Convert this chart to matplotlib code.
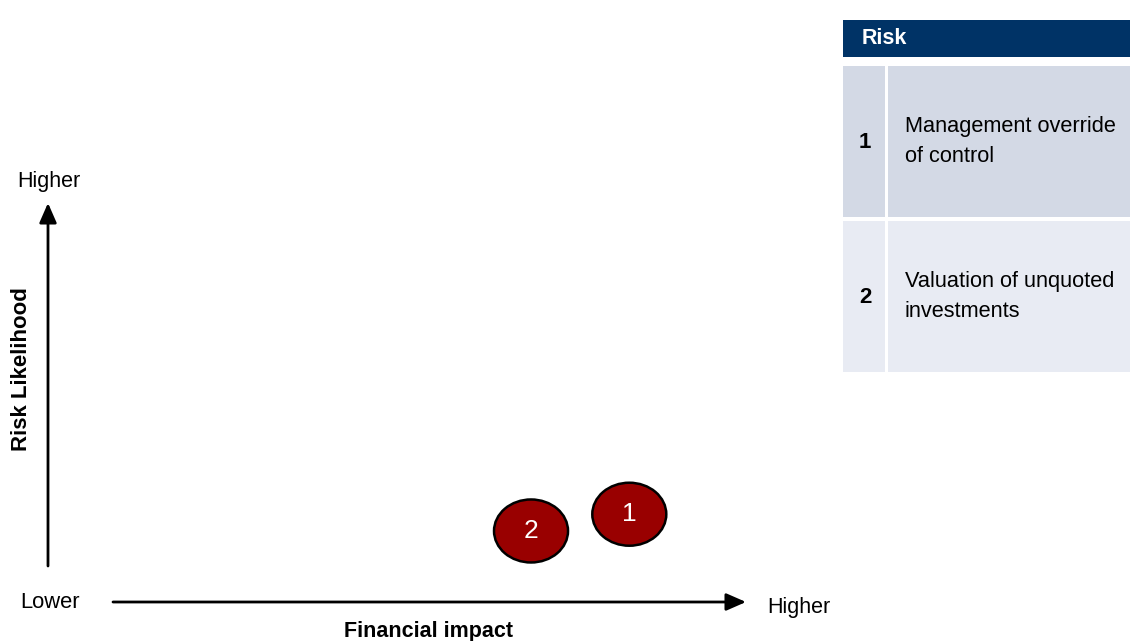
import matplotlib
matplotlib.use("Agg")
import matplotlib.pyplot as plt
from matplotlib.patches import Ellipse, Rectangle

plt.rcParams["font.family"] = ["Liberation Sans", "DejaVu Sans"]

# risk register
risk_ids = ["1", "2"]
risk_names = ["Management override\nof control", "Valuation of unquoted\ninvestments"]
# position on the matrix (0-10 scale on both axes)
impact = [8.34, 6.93]
likelihood = [2.2, 1.78]

table_header = "Risk"
x_label = "Financial impact"
y_label = "Risk Likelihood"

W, H = 1130, 641
fig = plt.figure(figsize=(W / 100, H / 100), dpi=100)

# overlay in pixel units for layout items
ov = fig.add_axes([0, 0, 1, 1])
ov.set_xlim(0, W)
ov.set_ylim(H, 0)
ov.axis("off")

# matrix axes
mx0, mx1, my0, my1 = 48, 745, 203, 602
ax = fig.add_axes([mx0 / W, 1 - my1 / H, (mx1 - mx0) / W, (my1 - my0) / H])
ax.set_xlim(0, 10)
ax.set_ylim(0, 10)
ax.axis("off")
ax.patch.set_alpha(0)

arrow = dict(arrowstyle="-|>,head_length=0.8,head_width=0.35", lw=2,
             color="black", mutation_scale=15, shrinkA=0, shrinkB=0)
ov.annotate("", xy=(48, 203), xytext=(48, 566), arrowprops=arrow)
ov.annotate("", xy=(746, 602), xytext=(113, 602), arrowprops=arrow)

ov.text(49, 182, "Higher", fontsize=15.5, ha="center", va="center")
ov.text(22, 369, y_label, fontsize=16, fontweight="bold", rotation=90,
        ha="center", va="center")
ov.text(50, 602, "Lower", fontsize=15.8, ha="center", va="center")
ov.text(767, 607, "Higher", fontsize=15.5, ha="left", va="center")
ov.text(428, 631, x_label, fontsize=15.5, fontweight="bold", ha="center", va="center")

# bubbles
ew, eh = 74 / (mx1 - mx0) * 10, 63 / (my1 - my0) * 10
for rid, x, y in zip(risk_ids, impact, likelihood):
    ax.add_patch(Ellipse((x, y), ew, eh, facecolor="#990000", edgecolor="black",
                         lw=1.8, clip_on=False))
    ax.text(x, y, rid, color="white", fontsize=19, ha="center", va="center")

# table
tx0, tsplit, tx1 = 843, 885, 1130
ov.add_patch(Rectangle((tx0, 20), tx1 - tx0, 37, facecolor="#003366", edgecolor="none"))
ov.text(862, 38, table_header, color="white", fontsize=15.5, fontweight="bold",
        ha="left", va="center")

row_top, row_h, gap = 66, 151, 4
row_colors = ["#D3D9E5", "#E8EBF3"]
for i, (rid, name) in enumerate(zip(risk_ids, risk_names)):
    y0 = row_top + i * (row_h + gap)
    c = row_colors[i % 2]
    ov.add_patch(Rectangle((tx0, y0), tsplit - tx0, row_h, facecolor=c, edgecolor="none"))
    ov.add_patch(Rectangle((tsplit + 3, y0), tx1 - tsplit - 3, row_h, facecolor=c,
                           edgecolor="none"))
    yc = y0 + row_h / 2
    ov.text(865, yc + 1, rid, fontsize=16, fontweight="bold", ha="center", va="center")
    ov.text(905, yc, name, fontsize=15.7, ha="left", va="center", linespacing=1.6)

fig.savefig("out.png", dpi=100)
